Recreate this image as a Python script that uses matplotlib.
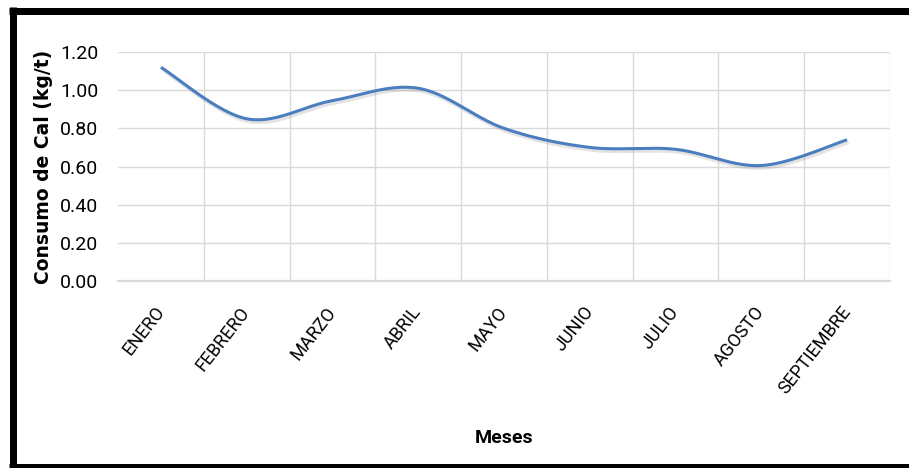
import numpy as np
import matplotlib
matplotlib.use("Agg")
import matplotlib.pyplot as plt
import matplotlib.patheffects as pe
from matplotlib.lines import Line2D

meses = ["ENERO", "FEBRERO", "MARZO", "ABRIL", "MAYO", "JUNIO", "JULIO", "AGOSTO", "SEPTIEMBRE"]
consumo = [1.12, 0.85, 0.945, 1.01, 0.80, 0.70, 0.69, 0.605, 0.74]
yticks = [0.0, 0.2, 0.4, 0.6, 0.8, 1.0, 1.2]
ytick_labels = ["0.00", "0.20", "0.40", "0.60", "0.80", "1.00", "1.20"]

narrow = ["Roboto", "DejaVu Sans"]

W, H = 909, 468
fig = plt.figure(figsize=(W / 100, H / 100), dpi=100)
ax = fig.add_axes([118 / W, 1 - 281 / H, (890 - 118) / W, (281 - 52) / H])

# Excel-style smoothed line (cubic Bezier, tension 1/6)
x = np.arange(len(consumo), dtype=float)
y = np.array(consumo, dtype=float)
pts = np.column_stack([x, y])
curve = []
t = np.linspace(0, 1, 40)
n = len(pts)
for i in range(n - 1):
    p0 = pts[max(i - 1, 0)]
    p1 = pts[i]
    p2 = pts[i + 1]
    p3 = pts[min(i + 2, n - 1)]
    c1 = p1 + (p2 - p0) / 6.0
    c2 = p2 - (p3 - p1) / 6.0
    seg = ((1 - t) ** 3)[:, None] * p1 + (3 * (1 - t) ** 2 * t)[:, None] * c1 \
        + (3 * (1 - t) * t ** 2)[:, None] * c2 + (t ** 3)[:, None] * p2
    curve.append(seg if i == 0 else seg[1:])
curve = np.vstack(curve)

ax.plot(curve[:, 0], curve[:, 1], color="#4A7EBF", lw=2.2, solid_capstyle="butt",
        path_effects=[pe.SimpleLineShadow(offset=(1, -2), shadow_color="#909090", alpha=0.25),
                      pe.Normal()], zorder=3)

ax.set_xlim(-0.5, len(meses) - 0.5)
ax.set_ylim(0, 1.2)

# gridlines
for yv in yticks[1:]:
    ax.axhline(yv, color="#D9D9D9", lw=1.0, zorder=1)
for xv in np.arange(0.5, len(meses) + 0.5, 1.0):
    ax.axvline(xv, color="#D9D9D9", lw=1.0, zorder=1)

for s in ["top", "right", "left"]:
    ax.spines[s].set_visible(False)
ax.spines["bottom"].set_color("#D9D9D9")
ax.spines["bottom"].set_linewidth(1.6)

ax.set_yticks(yticks)
ax.set_yticklabels(ytick_labels, family=narrow, fontsize=14, color="#000000")
ax.set_xticks(x)
ax.set_xticklabels(meses, family=narrow, fontsize=13, rotation=52,
                   ha="right", va="center", rotation_mode="anchor")
ax.tick_params(axis="both", length=0)
ax.tick_params(axis="y", pad=14)
ax.tick_params(axis="x", pad=20)

ax.set_ylabel("Consumo de Cal (kg/t)", family=["DejaVu Sans"], fontweight="bold",
              fontsize=13.5, labelpad=5)
fig.text(504 / W, 1 - 438 / H, "Meses", family=narrow, fontweight="bold",
         fontsize=14, ha="center", va="center")

# thick black frame (left, top, bottom visible)
lw = 7 * 72 / 100
fig.add_artist(Line2D([12.5 / W, 12.5 / W], [1 - 7 / H, -0.01], transform=fig.transFigure,
                      color="black", lw=lw, solid_capstyle="butt"))
fig.add_artist(Line2D([9 / W, 1.01], [1 - 10.5 / H, 1 - 10.5 / H], transform=fig.transFigure,
                      color="black", lw=lw, solid_capstyle="butt"))
fig.add_artist(Line2D([9 / W, 1.01], [1 - 466.5 / H, 1 - 466.5 / H], transform=fig.transFigure,
                      color="black", lw=lw, solid_capstyle="butt"))

fig.savefig("out.png", dpi=100)
